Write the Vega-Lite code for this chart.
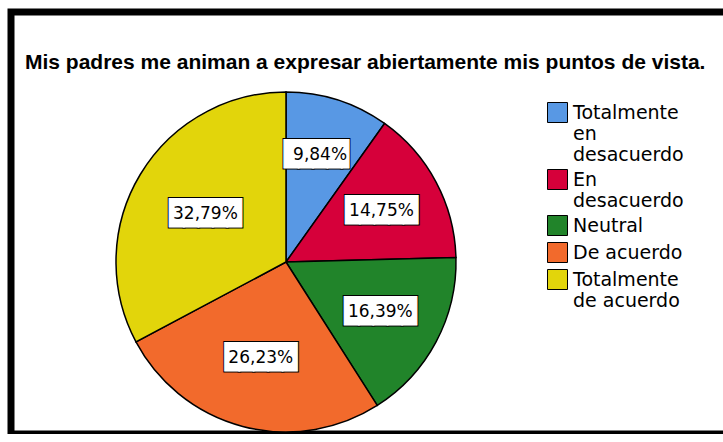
{
  "$schema": "https://vega.github.io/schema/vega-lite/v6.json",
  "width": 720,
  "height": 422,
  "autosize": {"type": "none"},
  "padding": {"left": 11, "top": 12, "right": 0, "bottom": 0},
  "background": "white",
  "title": {
    "text": "Mis padres me animan a expresar abiertamente mis puntos de vista.",
    "anchor": "start",
    "frame": "bounds",
    "offset": -78,
    "baseline": "alphabetic",
    "dx": 14,
    "font": "Liberation Sans",
    "fontSize": 21,
    "fontWeight": "bold",
    "color": "black"
  },
  "data": {
    "values": [
      {"ord": 1, "cat": "Totalmente en desacuerdo", "pct": 0.0984},
      {"ord": 2, "cat": "En desacuerdo", "pct": 0.1475},
      {"ord": 3, "cat": "Neutral", "pct": 0.1639},
      {"ord": 4, "cat": "De acuerdo", "pct": 0.2623},
      {"ord": 5, "cat": "Totalmente de acuerdo", "pct": 0.3279}
    ]
  },
  "encoding": {
    "x": {"datum": 275, "type": "quantitative", "scale": {"domain": [0, 720], "nice": false, "zero": false}, "axis": null},
    "y": {"datum": 172, "type": "quantitative", "scale": {"domain": [0, 422], "nice": false, "zero": false}, "axis": null},
    "theta": {"field": "pct", "type": "quantitative", "stack": true},
    "order": {"field": "ord", "type": "quantitative"}
  },
  "layer": [
    {
      "mark": {"type": "arc", "outerRadius": 170, "stroke": "black", "strokeWidth": 1.5},
      "encoding": {
        "color": {
          "field": "cat",
          "type": "nominal",
          "scale": {
            "domain": ["Totalmente en desacuerdo", "En desacuerdo", "Neutral", "De acuerdo", "Totalmente de acuerdo"],
            "range": ["#5898e4", "#d6003a", "#21842a", "#f26a2c", "#e2d50b"]
          },
          "legend": {
            "orient": "none",
            "legendX": 536,
            "legendY": 90,
            "title": null,
            "padding": 0,
            "symbolType": "square",
            "symbolSize": 400,
            "symbolStrokeColor": "black",
            "symbolStrokeWidth": 1,
            "labelFont": "DejaVu Sans",
            "labelFontSize": 19,
            "labelLineHeight": 19,
            "labelColor": "black",
            "labelOffset": 5,
            "rowPadding": 2,
            "labelLimit": 200,
            "labelExpr": "datum.label == 'Totalmente en desacuerdo' ? ['Totalmente','en','desacuerdo'] : datum.label == 'En desacuerdo' ? ['En','desacuerdo'] : datum.label == 'Totalmente de acuerdo' ? ['Totalmente','de acuerdo'] : datum.label"
          }
        }
      }
    },
    {
      "mark": {"type": "text", "font": "DejaVu Sans Mono", "fontSize": 24, "fill": "black", "stroke": "black", "strokeWidth": 3, "baseline": "middle", "align": "center"},
      "encoding": {
        "detail": {"field": "cat"},
        "radius": {"field": "pct", "type": "quantitative", "scale": {"type": "linear", "zero": false, "range": [112, 94]}},
        "text": {"condition": {"test": "datum.pct < 0.1", "value": "████▌"}, "value": "█████"}
      }
    },
    {
      "mark": {"type": "text", "font": "DejaVu Sans Mono", "fontSize": 24, "fill": "white", "stroke": "white", "strokeWidth": 1, "baseline": "middle", "align": "center"},
      "encoding": {
        "detail": {"field": "cat"},
        "radius": {"field": "pct", "type": "quantitative", "scale": {"type": "linear", "zero": false, "range": [112, 94]}},
        "text": {"condition": {"test": "datum.pct < 0.1", "value": "████▌"}, "value": "█████"}
      }
    },
    {
      "mark": {"type": "text", "font": "DejaVu Sans", "fontSize": 17, "fill": "black", "baseline": "middle", "align": "center"},
      "encoding": {
        "detail": {"field": "cat"},
        "radius": {"field": "pct", "type": "quantitative", "scale": {"type": "linear", "zero": false, "range": [112, 94]}},
        "text": {"field": "pct", "type": "quantitative", "format": ".2%"}
      }
    }
  ],
  "config": {
    "view": {"stroke": "black", "strokeWidth": 7},
    "locale": {"number": {"decimal": ",", "thousands": ".", "grouping": [3], "currency": ["", " €"]}}
  }
}
